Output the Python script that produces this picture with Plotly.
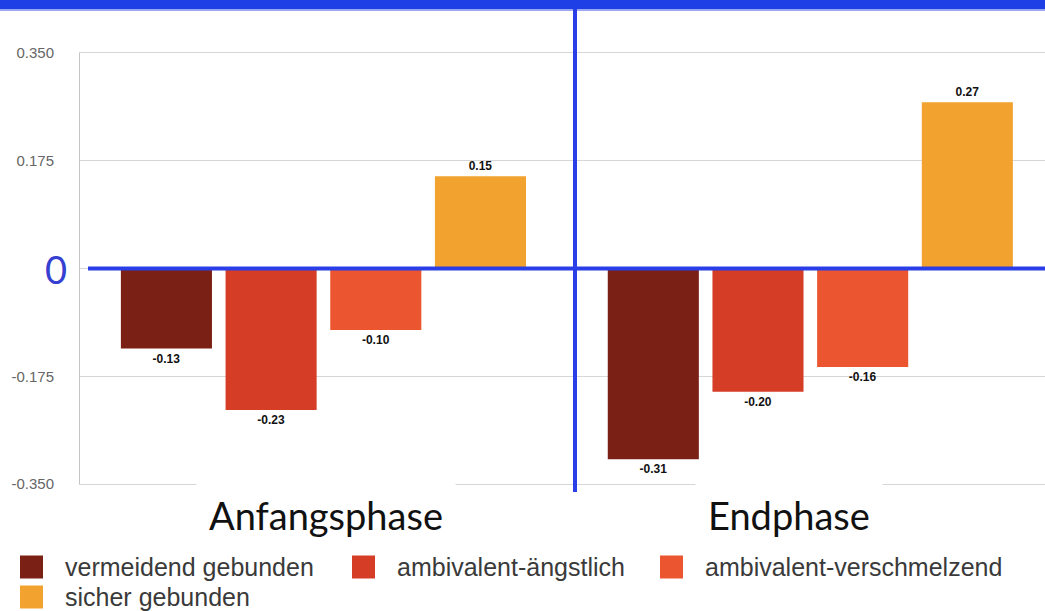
import plotly.graph_objects as go

# ---------------- data ----------------
categories = ["Anfangsphase", "Endphase"]
series_names = ["vermeidend gebunden", "ambivalent-ängstlich",
                "ambivalent-verschmelzend", "sicher gebunden"]
vermeidend = [-0.13, -0.31]
aengstlich = [-0.23, -0.20]
verschmelzend = [-0.10, -0.16]
sicher = [0.15, 0.27]
y_tickvals = [-0.35, -0.175, 0, 0.175, 0.35]
y_ticktext = ["-0.350", "-0.175", "", "0.175", "0.350"]
zero_label = "0"

# ---------------- styles ----------------
colors = ["#7b2015", "#d63d27", "#eb5530", "#f2a22e"]
blue = "#2a3ee8"
grid = "#d6d6d6"

W, H = 1045, 611
L, T, B = 80, 53, 484  # plot area pixel edges


def px(xp):
    return (xp - L) / (W - L)


def py(yp):
    return (B - yp) / (B - T)


fig = go.Figure()
for name, vals, c in zip(series_names,
                         [vermeidend, aengstlich, verschmelzend, sicher],
                         colors):
    fig.add_trace(go.Bar(
        x=categories, y=vals, name=name,
        marker=dict(color=c, line=dict(width=0)),
        texttemplate="%{y:.2f}", textposition="outside",
        textfont=dict(family="Liberation Sans, Arial", size=12,
                      color="#111111", weight="bold"),
        cliponaxis=False, showlegend=False,
    ))

shapes = [
    # top blue band
    dict(type="rect", xref="paper", yref="paper", x0=px(-2), x1=px(W + 2),
         y0=py(9), y1=py(-2), fillcolor="#1e3ee6", line=dict(width=0),
         layer="above"),
    dict(type="rect", xref="paper", yref="paper", x0=px(-2), x1=px(W + 2),
         y0=py(11), y1=py(9), fillcolor="#9aa8f2", line=dict(width=0),
         layer="above"),
    # vertical blue divider
    dict(type="line", xref="paper", yref="paper", x0=px(575), x1=px(575),
         y0=py(492), y1=py(9), line=dict(color=blue, width=4),
         layer="above"),
    # horizontal blue zero line
    dict(type="line", xref="paper", yref="y", x0=px(88), x1=1,
         y0=0, y1=0, line=dict(color=blue, width=4), layer="above"),
]

annotations = [
    dict(text=zero_label, xref="paper", yref="y", x=px(56), y=0,
         xanchor="center", yanchor="middle", showarrow=False,
         font=dict(family="Lato", size=38, color="#3540d0")),
]

cat_shift = [3, -21]
for cat, sh in zip(categories, cat_shift):
    annotations.append(dict(
        text=cat, xref="x", yref="paper", x=cat, y=py(515), xshift=sh,
        xanchor="center", yanchor="middle",
        showarrow=False, bgcolor="white", borderpad=12,
        font=dict(family="Lato", size=38, color="#111111"),
    ))

legend_pos = [(20, 567), (352, 567), (660, 567), (20, 597)]
sq = 23
for name, c, (lx, ly) in zip(series_names, colors, legend_pos):
    shapes.append(dict(type="rect", xref="paper", yref="paper",
                       x0=px(lx), x1=px(lx + sq),
                       y0=py(ly + sq / 2), y1=py(ly - sq / 2),
                       fillcolor=c, line=dict(width=0)))
    annotations.append(dict(
        text=name, xref="paper", yref="paper", x=px(lx + sq + 20),
        y=py(ly), xanchor="left", yanchor="middle", showarrow=False,
        font=dict(family="Liberation Sans, Arial", size=25, color="#3a3a3a"),
    ))

fig.update_layout(
    width=W, height=H,
    margin=dict(l=L, r=0, t=T, b=H - B, pad=0),
    paper_bgcolor="white", plot_bgcolor="white",
    barmode="group", bargap=0.14, bargroupgap=0.13,
    showlegend=False,
    xaxis=dict(range=[-0.5, 1.482], showticklabels=False, showgrid=False,
               showline=True, mirror=True, linecolor=grid, linewidth=1,
               zeroline=False, ticks=""),
    yaxis=dict(range=[-0.35, 0.35], tickvals=y_tickvals, ticktext=y_ticktext,
               showgrid=True, gridcolor=grid, gridwidth=1,
               showline=True, linecolor="#c4c4c4", linewidth=1,
               zeroline=False, ticks="", ticklabelstandoff=22,
               tickfont=dict(family="Liberation Sans, Arial", size=15,
                             color="#666666")),
    shapes=shapes,
    annotations=annotations,
)

fig.write_html("out.html",
               config={"displayModeBar": False},
               post_script="document.body.style.margin='0px';"
                           "document.body.style.overflow='hidden';")
